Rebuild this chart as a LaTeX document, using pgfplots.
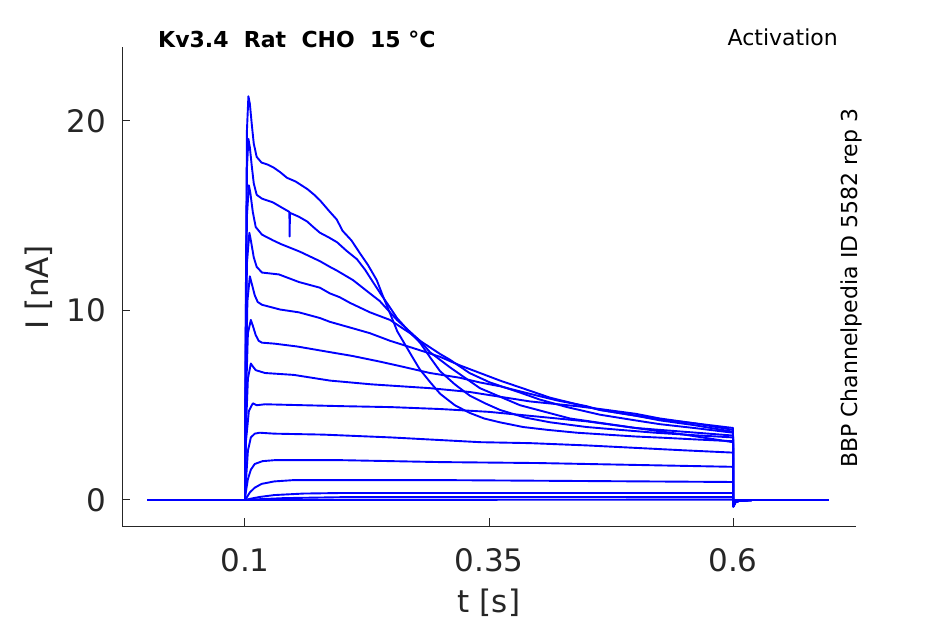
\documentclass[border=0pt]{standalone}
\usepackage{fontspec}
\setmainfont{DejaVu Sans}
\usepackage{pgfplots}
\pgfplotsset{compat=1.18}
\definecolor{axisgray}{HTML}{262626}
\definecolor{trace}{RGB}{0,0,255}
\pgfplotsset{tr/.style={draw=trace, line width=1.9pt, mark=none, solid, line join=round}}
\begin{document}
\begin{tikzpicture}
\useasboundingbox (0,0) rectangle (945pt,624pt);
\begin{axis}[
  at={(122pt,98pt)}, anchor=south west,
  scale only axis, width=734pt, height=479pt,
  xmin=-0.026, xmax=0.726, ymin=-1.372, ymax=23.9,
  axis x line*=bottom, axis y line*=left,
  axis line style={-, draw=axisgray, line width=1pt},
  xtick={0.1,0.35,0.6}, xticklabels={0.1,0.35,0.6},
  ytick={0,10,20}, yticklabels={0,10,20},
  tick align=inside, major tick length=8pt,
  tick style={draw=axisgray, line width=1pt},
  ticklabel style={font=\fontsize{31}{36}\selectfont, text=axisgray, inner sep=0pt},
  xticklabel style={anchor=north, yshift=-22pt},
  yticklabel style={anchor=east, xshift=-16pt},
]
% A
\addplot[tr] coordinates {(0,0) (0.1,0) (0.1008,10) (0.102,19.5) (0.1035,21.3) (0.105,20.9) (0.107,19.8) (0.109,18.8) (0.112,18.1) (0.117,17.8) (0.123,17.7) (0.129,17.55) (0.136,17.3) (0.143,17.0) (0.152,16.8) (0.164,16.4) (0.171,16.1) (0.177,15.8) (0.187,15.2) (0.194,14.8) (0.200,14.2) (0.209,13.7) (0.218,13.0) (0.226,12.4) (0.235,11.6) (0.241,10.8) (0.249,9.8) (0.256,8.9) (0.264,8.2) (0.272,7.5) (0.279,6.9) (0.29,6.2) (0.3,5.6) (0.315,5.0) (0.33,4.6) (0.345,4.3) (0.361,4.1) (0.385,3.85) (0.41,3.7) (0.44,3.55) (0.47,3.45) (0.5,3.35) (0.53,3.28) (0.56,3.2) (0.58,3.15) (0.6,3.1) (0.6003,-0.35) (0.6025,-0.12) (0.606,-0.05) (0.62,0) (0.698,0)};
% B
\addplot[tr] coordinates {(0,0) (0.1,0) (0.1008,9) (0.102,17.5) (0.1035,19.05) (0.105,18.6) (0.107,17.6) (0.109,16.7) (0.112,16.1) (0.1174,15.9) (0.123,15.8) (0.1287,15.7) (0.137,15.45) (0.1455,15.2) (0.1457,13.9) (0.1461,15.15) (0.155,14.95) (0.1635,14.7) (0.170,14.4) (0.1768,14.1) (0.186,13.85) (0.1943,13.6) (0.204,13.15) (0.2148,12.7) (0.223,12.15) (0.2311,11.5) (0.240,10.8) (0.248,10.2) (0.2557,9.6) (0.268,8.9) (0.2793,8.3) (0.29,7.5) (0.2998,6.8) (0.315,6.1) (0.3305,5.5) (0.346,5.1) (0.3613,4.75) (0.387,4.35) (0.4125,4.1) (0.45,3.85) (0.4842,3.7) (0.52,3.55) (0.56,3.42) (0.6,3.3) (0.6003,-0.35) (0.6025,-0.12) (0.606,-0.05) (0.62,0) (0.698,0)};
% C
\addplot[tr] coordinates {(0,0) (0.1,0) (0.1008,8) (0.102,15) (0.104,16.6) (0.1055,16.2) (0.108,15.2) (0.111,14.4) (0.1174,14.0) (0.1287,13.7) (0.1369,13.5) (0.1563,13.1) (0.1768,12.6) (0.187,12.3) (0.1943,12.1) (0.2107,11.6) (0.228,10.9) (0.238,10.5) (0.2557,9.5) (0.2793,8.4) (0.2895,7.8) (0.31,7.0) (0.3407,5.9) (0.3818,5.0) (0.433,4.3) (0.50,3.8) (0.55,3.6) (0.6,3.4) (0.6003,-0.35) (0.6025,-0.12) (0.606,-0.05) (0.62,0) (0.698,0)};
% D
\addplot[tr] coordinates {(0,0) (0.1,0) (0.1008,7) (0.102,12.5) (0.1045,14.1) (0.106,13.7) (0.109,12.8) (0.112,12.3) (0.1174,12.0) (0.1348,11.9) (0.1553,11.5) (0.1768,11.2) (0.187,10.9) (0.197,10.7) (0.2076,10.4) (0.2281,9.9) (0.2486,9.5) (0.2691,8.8) (0.2793,8.4) (0.3,7.7) (0.31,7.4) (0.33,6.7) (0.351,6.2) (0.38,5.7) (0.402,5.3) (0.43,4.9) (0.4637,4.5) (0.50,4.2) (0.5252,4.0) (0.56,3.8) (0.6,3.55) (0.6003,-0.35) (0.6025,-0.12) (0.606,-0.05) (0.62,0) (0.698,0)};
% E
\addplot[tr] coordinates {(0,0) (0.1,0) (0.1008,6) (0.1025,10.5) (0.105,11.8) (0.107,11.4) (0.11,10.8) (0.113,10.45) (0.1174,10.3) (0.1359,10.05) (0.1553,9.9) (0.1768,9.6) (0.187,9.4) (0.2076,9.1) (0.228,8.8) (0.2486,8.4) (0.2793,7.9) (0.30,7.55) (0.3203,7.1) (0.3408,6.7) (0.3613,6.3) (0.387,5.85) (0.4125,5.4) (0.44,5.05) (0.4637,4.75) (0.50,4.45) (0.5252,4.25) (0.56,4.05) (0.6,3.8) (0.6003,-0.35) (0.6025,-0.12) (0.606,-0.05) (0.62,0) (0.698,0)};
% F
\addplot[tr] coordinates {(0,0) (0.1,0) (0.1008,5) (0.103,8.8) (0.106,9.5) (0.108,9.2) (0.111,8.7) (0.114,8.4) (0.1174,8.3) (0.13,8.25) (0.1533,8.1) (0.1871,7.8) (0.21,7.6) (0.2383,7.3) (0.26,7.05) (0.2895,6.7) (0.32,6.45) (0.3408,6.2) (0.3613,6.0) (0.392,5.6) (0.42,5.25) (0.45,4.95) (0.4637,4.75) (0.50,4.45) (0.5252,4.2) (0.56,3.95) (0.6,3.6) (0.6003,-0.3) (0.6025,-0.1) (0.606,-0.04) (0.62,0) (0.698,0)};
% G
\addplot[tr] coordinates {(0,0) (0.1,0) (0.1008,3.5) (0.103,6.4) (0.106,7.2) (0.108,7.05) (0.111,6.85) (0.1205,6.7) (0.15,6.6) (0.187,6.3) (0.23,6.1) (0.2895,5.9) (0.33,5.7) (0.392,5.2) (0.44,4.95) (0.4637,4.8) (0.50,4.55) (0.5252,4.3) (0.56,4.05) (0.6,3.7) (0.6003,-0.25) (0.6025,-0.08) (0.606,-0.03) (0.62,0) (0.698,0)};
% H
\addplot[tr] coordinates {(0,0) (0.1,0) (0.1008,3) (0.104,4.7) (0.108,5.1) (0.112,5.0) (0.1205,5.05) (0.16,5.0) (0.2,4.95) (0.25,4.9) (0.30,4.8) (0.35,4.65) (0.40,4.4) (0.45,4.15) (0.50,3.8) (0.55,3.45) (0.6,3.05) (0.6003,-0.2) (0.6025,-0.06) (0.606,-0.02) (0.62,0) (0.698,0)};
% I
\addplot[tr] coordinates {(0,0) (0.1,0) (0.1005,0.6) (0.103,2.6) (0.106,3.3) (0.11,3.5) (0.115,3.55) (0.13,3.5) (0.18,3.45) (0.25,3.3) (0.341,3.05) (0.392,3.0) (0.45,2.88) (0.5,2.75) (0.55,2.62) (0.6,2.5) (0.6003,-0.15) (0.6025,-0.05) (0.62,0) (0.698,0)};
% J
\addplot[tr] coordinates {(0,0) (0.1,0) (0.1005,0.3) (0.103,1.1) (0.106,1.6) (0.11,1.9) (0.118,2.05) (0.13,2.1) (0.2,2.1) (0.3,2.0) (0.4,1.95) (0.5,1.85) (0.6,1.75) (0.6003,-0.1) (0.6025,-0.03) (0.62,0) (0.698,0)};
% K
\addplot[tr] coordinates {(0,0) (0.1,0) (0.102,0.15) (0.105,0.4) (0.11,0.65) (0.117,0.85) (0.13,0.98) (0.15,1.05) (0.3,1.05) (0.45,1.0) (0.6,0.95) (0.6003,-0.05) (0.62,0) (0.698,0)};
% L
\addplot[tr] coordinates {(0,0) (0.1,0) (0.105,0.06) (0.115,0.16) (0.13,0.26) (0.16,0.34) (0.2,0.37) (0.6,0.37) (0.6003,0) (0.698,0)};
% M
\addplot[tr] coordinates {(0,0) (0.1,0) (0.11,0.03) (0.14,0.1) (0.2,0.15) (0.6,0.15) (0.6003,0) (0.698,0)};
% N
\addplot[tr] coordinates {(0,0) (0.1,0) (0.6,0.02) (0.6003,0) (0.698,0)};
\end{axis}
\node[anchor=base west, inner sep=0pt, font=\fontsize{22}{26}\selectfont\bfseries] at (158pt,576pt) {Kv3.4\ \ Rat\ \ CHO\ \ 15 °C};
\node[anchor=base east, inner sep=0pt, font=\fontsize{22}{26}\selectfont] at (838pt,578pt) {Activation};
\node[anchor=base west, rotate=90, inner sep=0pt, font=\fontsize{22}{26}\selectfont] at (857pt,156pt) {BBP Channelpedia ID 5582 rep 3};
\node[anchor=base, rotate=90, inner sep=0pt, text=axisgray, font=\fontsize{31}{36}\selectfont] at (48pt,337pt) {I [nA]};
\node[anchor=base, inner sep=0pt, text=axisgray, font=\fontsize{31}{36}\selectfont] at (489pt,12pt) {t [s]};
\end{tikzpicture}
\end{document}
